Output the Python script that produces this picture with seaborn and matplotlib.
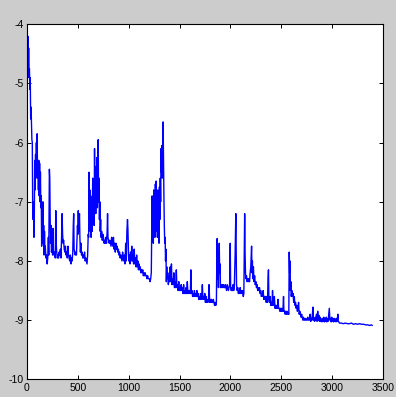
import matplotlib
matplotlib.use("Agg")
import matplotlib.pyplot as plt
import seaborn as sns
import pandas as pd

# ---- data ----
pts = [
(0,-4.15),(4,-4.7),(8,-4.2),(12,-4.9),(16,-4.4),(20,-4.8),(24,-4.75),(28,-5.1),(32,-4.9),(36,-5.6),(40,-5.4),(44,-5.7),(48,-5.95),(52,-6.0),(56,-7.1),(60,-7.3),(64,-7.0),(68,-7.6),(72,-7.2),(76,-6.3),(80,-6.8),(84,-6.2),(88,-6.6),(92,-6.0),(96,-6.5),(100,-5.85),(104,-6.6),(108,-6.3),(112,-6.8),(116,-6.3),(120,-6.9),(124,-6.35),(128,-7.0),(132,-6.5),(136,-7.1),(140,-6.9),(144,-7.75),(148,-7.3),(152,-7.6),(156,-7.0),(160,-7.7),(164,-7.4),(168,-7.9),(172,-7.5),(176,-7.8),(180,-7.75),(186,-7.95),(192,-7.9),(198,-8.05),(204,-7.95),
(210,-7.6),(214,-7.9),(220,-6.45),(224,-6.6),(228,-7.3),(232,-7.7),(236,-7.4),(240,-7.85),(246,-7.8),(252,-7.9),(256,-7.45),(260,-7.85),(266,-7.9),(272,-7.85),(278,-7.95),(283,-7.15),(287,-7.7),(292,-7.85),(298,-7.95),(304,-7.9),(310,-7.95),(316,-7.85),(322,-7.9),(328,-7.8),(334,-7.95),(340,-7.6),(345,-7.2),(350,-7.55),(355,-7.7),(360,-7.65),(366,-7.8),(372,-7.85),(378,-7.75),(384,-7.9),(390,-7.85),(396,-7.95),(402,-7.75),(408,-7.9),(414,-7.95),(420,-8.0),(426,-7.9),(432,-8.05),(438,-7.95),(444,-8.0),(450,-7.85),(455,-7.4),(459,-7.2),(463,-7.8),(468,-7.85),(474,-7.9),(480,-7.85),(486,-7.9),(492,-7.6),(496,-7.4),(500,-7.55),(504,-7.15),(508,-7.5),(512,-7.3),(516,-7.2),(520,-7.6),(525,-7.85),(530,-7.7),(536,-7.9),(542,-7.85),(548,-7.95),(554,-7.9),(560,-7.95),(566,-7.85),(572,-8.0),(578,-7.95),(584,-8.0),(590,-8.05),(596,-7.9),
(602,-7.55),(606,-7.6),(610,-6.5),(614,-7.3),(618,-6.8),(622,-7.5),(626,-6.9),(630,-7.6),(636,-7.2),(640,-7.5),(646,-6.6),(650,-7.3),(656,-6.9),(660,-7.4),(664,-6.1),(668,-7.0),(672,-6.5),(676,-7.2),(680,-6.4),(684,-6.9),(688,-6.25),(692,-7.1),(696,-6.7),(700,-5.95),(704,-7.0),(708,-6.6),(712,-7.3),(716,-7.0),(720,-7.5),(724,-7.3),(728,-7.6),(734,-7.5),(740,-7.65),(746,-7.55),(752,-7.6),(758,-7.7),
(764,-7.65),(770,-7.7),(776,-7.6),(782,-7.7),(788,-7.5),(792,-7.2),(796,-7.6),(802,-7.65),(808,-7.7),(814,-7.65),(820,-7.7),(826,-7.75),(832,-7.6),(838,-7.7),(844,-7.75),(850,-7.6),(856,-7.8),(862,-7.7),(868,-7.85),(874,-7.7),(880,-7.8),(886,-7.75),(892,-7.85),(898,-7.8),(904,-7.9),(910,-7.85),(916,-7.95),(922,-7.9),(928,-7.95),(934,-8.0),(940,-7.85),(946,-7.95),(952,-8.0),(958,-7.9),(964,-8.05),(970,-7.7),(976,-8.0),(982,-7.5),(988,-7.3),(992,-7.45),(996,-7.7),(1000,-8.0),(1006,-7.9),(1012,-8.05),(1018,-7.85),(1024,-8.0),(1030,-7.75),(1036,-8.0),(1042,-7.9),(1048,-8.05),(1054,-7.8),(1060,-8.05),(1066,-7.95),(1072,-8.1),(1078,-7.9),(1084,-8.1),(1090,-8.0),(1096,-8.15),(1102,-8.05),(1108,-8.15),(1114,-8.1),(1120,-8.2),(1126,-8.15),(1132,-8.2),(1138,-8.15),(1144,-8.25),(1150,-8.2),(1156,-8.25),(1162,-8.2),(1168,-8.25),(1174,-8.25),(1180,-8.3),(1186,-8.25),(1192,-8.3),(1198,-8.3),(1204,-8.3),(1210,-8.35),(1216,-8.3),(1222,-8.2),
(1226,-7.6),(1230,-6.9),(1234,-7.5),(1238,-7.0),(1242,-7.7),(1246,-6.8),(1250,-7.4),(1254,-6.9),(1258,-7.6),(1262,-6.7),(1266,-7.3),(1270,-6.65),(1274,-7.5),(1278,-6.9),(1282,-7.6),(1286,-6.8),(1290,-7.4),(1294,-7.0),(1298,-7.7),(1302,-6.75),(1306,-7.3),(1310,-6.6),(1314,-7.0),(1318,-6.1),(1322,-6.5),(1326,-6.05),(1330,-6.6),(1334,-6.0),(1338,-5.65),(1342,-6.3),(1346,-6.9),(1350,-7.4),(1354,-7.7),(1358,-7.6),(1362,-8.0),(1366,-7.8),(1370,-8.35),(1374,-8.1),(1378,-8.3),
(1384,-8.2),(1390,-8.4),(1396,-8.25),(1402,-8.35),(1408,-8.1),(1414,-8.35),(1420,-8.05),(1426,-8.4),(1432,-8.3),(1438,-8.4),(1444,-8.2),(1450,-8.45),(1456,-8.35),(1462,-8.45),(1468,-8.15),(1474,-8.45),(1480,-8.4),(1486,-8.5),(1492,-8.35),(1498,-8.5),(1504,-8.45),(1510,-8.5),(1516,-8.4),(1522,-8.5),(1528,-8.45),(1534,-8.55),(1540,-8.4),(1546,-8.55),(1552,-8.5),(1558,-8.55),(1564,-8.45),(1570,-8.55),(1576,-8.35),(1582,-8.55),(1588,-8.5),(1594,-8.55),(1600,-8.5),(1606,-8.55),(1611,-8.15),(1616,-8.55),(1622,-8.5),(1628,-8.6),(1634,-8.55),(1640,-8.6),(1646,-8.5),(1652,-8.6),(1658,-8.55),(1664,-8.6),(1670,-8.5),(1676,-8.6),(1682,-8.55),(1688,-8.65),(1694,-8.6),(1700,-8.65),(1706,-8.55),(1712,-8.65),(1718,-8.6),(1724,-8.4),(1730,-8.65),(1736,-8.6),(1742,-8.65),(1748,-8.55),(1754,-8.7),(1760,-8.6),(1766,-8.7),(1772,-8.65),(1778,-8.7),(1784,-8.65),(1790,-8.4),(1796,-8.7),(1802,-8.65),(1808,-8.7),(1814,-8.65),(1820,-8.7),(1826,-8.7),(1832,-8.65),(1838,-8.7),(1844,-8.75),(1850,-8.7),(1856,-8.75),(1862,-8.7),
(1866,-8.0),(1870,-7.62),(1874,-8.3),(1878,-8.0),(1882,-8.45),(1886,-8.1),(1890,-7.7),(1894,-8.2),(1898,-8.05),(1902,-8.45),(1908,-8.4),(1914,-8.45),(1920,-8.4),(1926,-8.45),(1932,-8.4),(1938,-8.45),(1944,-8.45),(1950,-8.4),(1956,-8.45),(1962,-8.5),(1968,-8.4),(1974,-8.45),(1980,-8.5),(1986,-8.45),(1992,-8.4),(1998,-7.7),(2002,-8.45),(2008,-8.5),(2014,-8.45),(2020,-8.5),(2026,-8.4),(2032,-8.5),(2038,-8.45),(2042,-8.2),(2046,-7.9),(2050,-7.45),(2053,-7.2),(2056,-7.8),(2060,-8.4),(2066,-8.5),(2072,-8.45),(2078,-8.55),(2084,-8.5),(2090,-8.55),(2096,-8.45),(2102,-8.55),(2108,-8.5),(2114,-8.55),(2120,-8.5),(2126,-8.6),(2132,-8.55),(2136,-7.8),(2140,-7.2),(2144,-7.85),(2148,-8.2),(2152,-8.3),(2158,-8.25),(2164,-8.35),(2170,-8.3),(2176,-8.35),(2182,-8.3),(2188,-8.35),(2194,-8.2),(2200,-8.1),(2204,-7.9),(2208,-7.75),(2212,-8.2),(2216,-8.0),(2220,-8.3),(2226,-8.1),(2232,-8.35),(2238,-8.25),(2244,-8.4),(2250,-8.35),(2256,-8.45),
(2262,-8.4),(2268,-8.5),(2274,-8.45),(2280,-8.5),(2286,-8.45),(2292,-8.55),(2298,-8.5),(2304,-8.6),(2310,-8.55),(2316,-8.6),(2322,-8.5),(2328,-8.65),(2334,-8.6),(2340,-8.65),(2346,-8.6),(2352,-8.7),(2358,-8.6),(2364,-8.7),(2370,-8.3),(2374,-8.15),(2378,-8.65),(2384,-8.7),(2390,-8.6),(2396,-8.75),(2402,-8.7),(2408,-8.75),(2414,-8.5),(2420,-8.75),(2426,-8.7),(2432,-8.6),(2438,-8.8),(2444,-8.75),(2450,-8.8),(2456,-8.75),(2462,-8.8),(2468,-8.65),(2474,-8.8),(2480,-8.8),(2486,-8.85),(2492,-8.8),(2498,-8.85),(2504,-8.8),(2510,-8.85),(2516,-8.85),(2522,-8.6),(2526,-8.85),(2532,-8.85),(2538,-8.9),(2544,-8.85),(2550,-8.9),(2556,-8.85),(2562,-8.9),(2568,-8.88),(2574,-8.9),
(2578,-7.85),(2582,-8.2),(2586,-8.0),(2590,-8.5),(2594,-8.35),(2598,-8.6),(2604,-8.5),(2610,-8.6),(2616,-8.55),(2622,-8.7),(2628,-8.6),(2634,-8.75),(2640,-8.7),(2646,-8.8),(2652,-8.75),(2658,-8.85),(2664,-8.8),(2670,-8.7),(2676,-8.9),(2682,-8.85),(2688,-8.9),(2694,-8.95),(2700,-8.9),(2706,-8.95),(2712,-9.0),(2718,-8.95),(2724,-9.0),(2730,-9.0),(2736,-8.97),(2742,-9.0),(2748,-8.98),(2754,-9.0),(2760,-8.95),(2766,-9.0),(2772,-8.97),(2778,-9.0),(2784,-8.9),(2790,-9.02),(2796,-8.97),(2802,-9.0),(2808,-8.85),(2812,-8.78),(2816,-9.0),(2822,-8.97),(2828,-9.02),(2834,-8.95),(2840,-9.0),(2846,-8.9),(2852,-9.02),(2858,-8.85),(2864,-9.0),(2870,-8.92),(2876,-9.02),(2882,-8.95),(2888,-9.02),(2894,-8.98),(2900,-9.03),(2906,-8.97),(2912,-9.02),(2918,-8.95),(2924,-9.03),(2930,-8.98),(2936,-9.02),(2942,-8.95),(2948,-9.03),(2954,-8.98),(2960,-9.02),(2966,-8.9),(2972,-8.8),(2978,-9.0),(2984,-8.97),(2990,-9.03),(2996,-8.95),(3002,-9.02),(3008,-8.98),(3014,-9.03),(3020,-8.97),(3026,-9.02),(3032,-8.98),(3038,-9.03),(3044,-8.97),(3050,-9.02),(3056,-8.9),(3060,-9.02),(3066,-9.03),(3072,-9.05),(3090,-9.05),(3110,-9.06),(3130,-9.05),(3150,-9.06),(3170,-9.06),(3190,-9.05),(3210,-9.07),(3230,-9.06),(3250,-9.07),(3270,-9.06),(3290,-9.07),(3310,-9.07),(3330,-9.08),(3350,-9.08),(3370,-9.09),(3385,-9.08),(3395,-9.09),
]
iteration = [p[0] for p in pts]
value = [p[1] for p in pts]
x_ticks = [0, 500, 1000, 1500, 2000, 2500, 3000, 3500]
y_ticks = [-10, -9, -8, -7, -6, -5, -4]

df = pd.DataFrame({"iteration": iteration, "value": value})

sns.set_style("ticks")
plt.rcParams["font.family"] = ["Liberation Sans Narrow", "Liberation Sans", "DejaVu Sans"]

fig = plt.figure(figsize=(3.96, 3.97), dpi=100, facecolor="#cccccc")
ax = fig.add_axes([27/396, 17.7/397, 356/396, 355/397])
ax.set_facecolor("white")

sns.lineplot(data=df, x="iteration", y="value", ax=ax, color="#0000ff",
             linewidth=1.0, estimator=None, sort=False)

ax.set_xlim(0, 3500)
ax.set_ylim(-10, -4)
ax.set_xticks(x_ticks)
ax.set_yticks(y_ticks)
ax.set_xticklabels([str(t) for t in x_ticks])
ax.set_yticklabels([str(t) for t in y_ticks])
ax.set_xlabel("")
ax.set_ylabel("")
ax.tick_params(direction="in", length=3, width=0.7, labelsize=7.5, color="black",
               labelcolor="black", top=True, right=True, pad=2.5)
for s in ax.spines.values():
    s.set_visible(True)
    s.set_color("black")
    s.set_linewidth(0.8)

fig.savefig("out.png", dpi=100, facecolor=fig.get_facecolor())
